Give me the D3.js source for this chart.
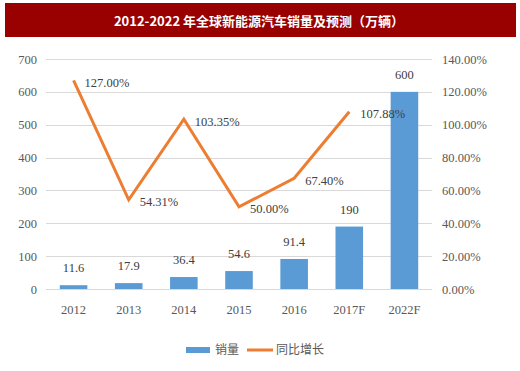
<!DOCTYPE html>
<html>
<head>
<meta charset="utf-8">
<script src="https://cdn.jsdelivr.net/npm/d3@7"></script>
<style>
  body { margin: 0; background: #fff; }
  svg { display: block; }
</style>
</head>
<body>
<div id="chart"></div>
<script>
const categories = ['2012', '2013', '2014', '2015', '2016', '2017F', '2022F'];
const sales = [11.6, 17.9, 36.4, 54.6, 91.4, 190, 600];
const growthCats = ['2012', '2013', '2014', '2015', '2016', '2017F'];
const growth = [127.0, 54.31, 103.35, 50.0, 67.4, 107.88];
const leftTicks = [0, 100, 200, 300, 400, 500, 600, 700];
const rightTicks = [0, 20, 40, 60, 80, 100, 120, 140];

const width = 520;
const height = 371;
const marginLeft = 46;
const marginRight = 88;
const plotTop = 59;
const plotBottom = 289;

const barColor = '#5b9bd5';
const lineColor = '#ed7d31';
const textColor = '#595959';
const serif = '"Liberation Serif", "Times New Roman", serif';
const cjk = '"Noto Sans CJK SC", sans-serif';

const svg = d3
	.select('#chart')
	.append('svg')
	.attr('width', width)
	.attr('height', height);

// Title bar
svg.append('rect')
	.attr('x', 5)
	.attr('y', 3)
	.attr('width', 511)
	.attr('height', 34)
	.attr('fill', '#990000');

svg.append('text')
	.attr('x', 259)
	.attr('y', 21)
	.attr('dy', '0.35em')
	.attr('text-anchor', 'middle')
	.attr('fill', '#fff')
	.style('font', `bold 13px ${cjk}`)
	.text('2012-2022 年全球新能源汽车销量及预测（万辆）');

// Scales
const x = d3
	.scaleBand()
	.domain(categories)
	.range([marginLeft, width - marginRight])
	.paddingInner(0.5)
	.paddingOuter(0.25);

const y = d3.scaleLinear().domain([0, 700]).range([plotBottom, plotTop]);
const y2 = d3.scaleLinear().domain([0, 140]).range([plotBottom, plotTop]);

// Grid lines
svg.append('g')
	.selectAll('line')
	.data(leftTicks)
	.join('line')
	.attr('x1', marginLeft)
	.attr('x2', width - marginRight)
	.attr('y1', (d) => Math.round(y(d)) + 0.5)
	.attr('y2', (d) => Math.round(y(d)) + 0.5)
	.attr('stroke', '#d9d9d9')
	.attr('stroke-width', 1);

// Left axis
const axisLeft = svg
	.append('g')
	.attr('transform', `translate(${marginLeft},0)`)
	.call(d3.axisLeft(y).tickValues(leftTicks).tickSize(0).tickPadding(9));
axisLeft.select('.domain').remove();
axisLeft.selectAll('text').attr('fill', textColor).style('font', `12.5px ${serif}`);

// Right axis
const axisRight = svg
	.append('g')
	.attr('transform', `translate(${width - marginRight},0)`)
	.call(
		d3.axisRight(y2)
			.tickValues(rightTicks)
			.tickSize(0)
			.tickPadding(10)
			.tickFormat((d) => d.toFixed(2) + '%')
	);
axisRight.select('.domain').remove();
axisRight.selectAll('text').attr('fill', textColor).style('font', `12.5px ${serif}`);

// Bottom axis
const axisBottom = svg
	.append('g')
	.attr('transform', `translate(0,${plotBottom})`)
	.call(d3.axisBottom(x).tickSize(0).tickPadding(16));
axisBottom.select('.domain').remove();
axisBottom.selectAll('text').attr('fill', textColor).style('font', `12.5px ${serif}`);

// Bars
svg.append('g')
	.attr('fill', barColor)
	.selectAll('rect')
	.data(categories)
	.join('rect')
	.attr('x', (d) => x(d))
	.attr('width', x.bandwidth())
	.attr('y', (d, i) => y(sales[i]))
	.attr('height', (d, i) => y(0) - y(sales[i]));

// Bar labels
svg.append('g')
	.selectAll('text')
	.data(categories)
	.join('text')
	.attr('x', (d) => x(d) + x.bandwidth() / 2)
	.attr('y', (d, i) => y(sales[i]) - 13)
	.attr('text-anchor', 'middle')
	.attr('fill', '#404040')
	.style('font', `12.5px ${serif}`)
	.text((d, i) => sales[i]);

// Growth line
const cx = (d) => x(d) + x.bandwidth() / 2;
const line = d3
	.line()
	.x((d) => cx(d))
	.y((d, i) => y2(growth[i]));

svg.append('path')
	.datum(growthCats)
	.attr('d', line)
	.attr('fill', 'none')
	.attr('stroke', lineColor)
	.attr('stroke-width', 3)
	.attr('stroke-linejoin', 'miter');

// Line labels
svg.append('g')
	.selectAll('text')
	.data(growthCats)
	.join('text')
	.attr('x', (d) => cx(d) + 11)
	.attr('y', (d, i) => y2(growth[i]) + 2)
	.attr('dy', '0.35em')
	.attr('fill', '#404040')
	.style('font', `12.5px ${serif}`)
	.text((d, i) => growth[i].toFixed(2) + '%');

// Legend
const legend = svg.append('g').attr('transform', 'translate(0,350)');

legend.append('rect')
	.attr('x', 186)
	.attr('y', -3)
	.attr('width', 24)
	.attr('height', 6)
	.attr('fill', barColor);

legend.append('text')
	.attr('x', 215)
	.attr('y', 0)
	.attr('dy', '0.35em')
	.attr('fill', textColor)
	.style('font', `12px ${cjk}`)
	.text('销量');

legend.append('line')
	.attr('x1', 247)
	.attr('x2', 273)
	.attr('y1', 0)
	.attr('y2', 0)
	.attr('stroke', lineColor)
	.attr('stroke-width', 3);

legend.append('text')
	.attr('x', 276)
	.attr('y', 0)
	.attr('dy', '0.35em')
	.attr('fill', textColor)
	.style('font', `12px ${cjk}`)
	.text('同比增长');
</script>
</body>
</html>
